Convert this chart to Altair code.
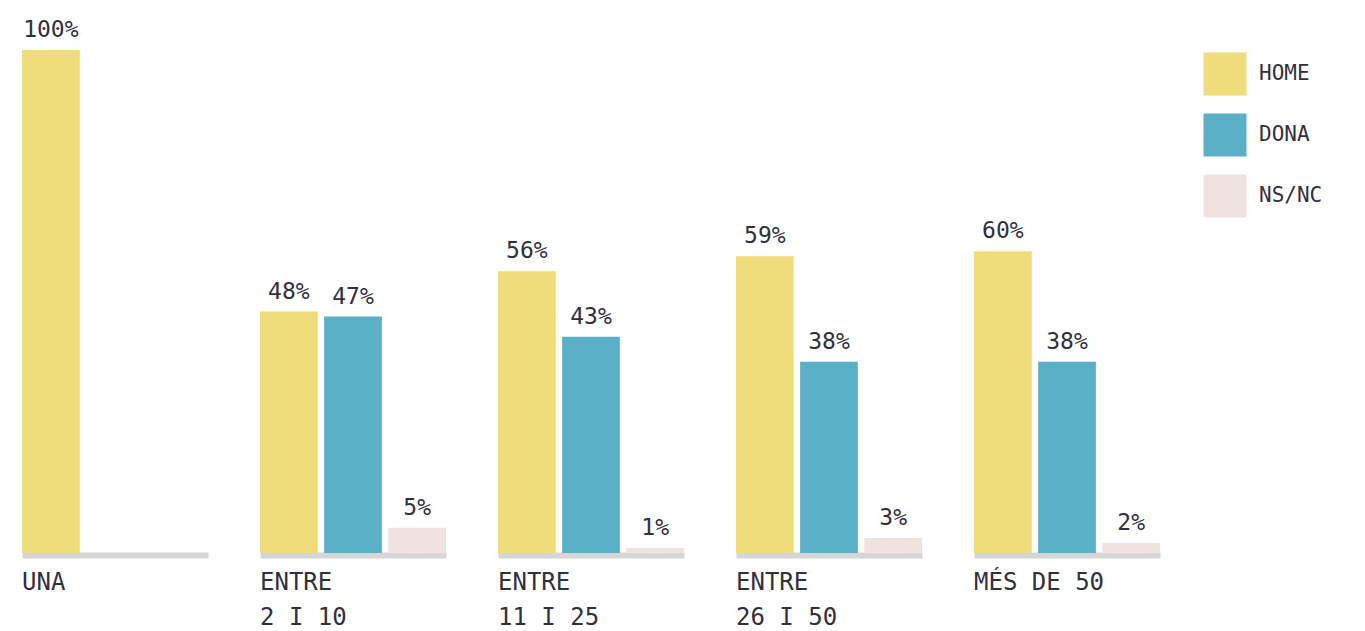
import altair as alt
import pandas as pd

groups = ["UNA", "ENTRE\n2 I 10", "ENTRE\n11 I 25", "ENTRE\n26 I 50", "MÉS DE 50"]
series = ["HOME", "DONA", "NS/NC"]
home = [100, 48, 56, 59, 60]
dona = [None, 47, 43, 38, 38]
nsnc = [None, 5, 1, 3, 2]
colors = ["#EFDC7A", "#5AB0C6", "#EFE2E1"]

rows = []
for g, h, d, n in zip(groups, home, dona, nsnc):
    for s, v in zip(series, [h, d, n]):
        if v is not None:
            rows.append({"group": g, "series": s, "value": v, "label": f"{v}%"})
df = pd.DataFrame(rows)

FONT = "DejaVu Sans Mono"
TXT = "#30303f"

xscale = alt.Scale(domain=series, paddingInner=0.1, paddingOuter=0)
xaxis = alt.Axis(domain=True, domainColor="#d6d6d6", domainWidth=6, offset=2,
                 ticks=False, labels=False, grid=False, title=None)
xenc = alt.X("series:N", sort=series, scale=xscale, axis=xaxis)
yenc = alt.Y("value:Q", axis=None, scale=alt.Scale(domain=[0, 100], nice=False, zero=True))

base = alt.Chart(df)

bars = base.mark_bar().encode(
    x=xenc, y=yenc,
    color=alt.Color("series:N", sort=series,
                    scale=alt.Scale(domain=series, range=colors),
                    legend=alt.Legend(
                        title=None, orient="none", legendX=1181, legendY=2,
                        symbolType="square", symbolSize=1850, symbolStrokeWidth=0,
                        symbolOpacity=1, rowPadding=17, labelOffset=12,
                        labelFont=FONT, labelFontSize=21, labelColor=TXT,
                        padding=0)),
)

pct = base.mark_text(font=FONT, fontSize=23, color=TXT,
                     baseline="alphabetic", dy=-13).encode(
    x=xenc, y=yenc, text="label:N",
)

cats = base.transform_filter(alt.datum.series == "HOME").mark_text(
    font=FONT, fontSize=24, color=TXT, align="left",
    baseline="top", dy=18, lineBreak="\n", lineHeight=35).encode(
    x=alt.X("series:N", sort=series, scale=xscale, axis=xaxis, bandPosition=0),
    y=alt.datum(0),
    text="group:N",
)

chart = alt.layer(bars, pct, cats).properties(
    width=186, height=503,
).facet(
    column=alt.Column("group:N", sort=groups, title=None,
                      header=alt.Header(labels=False)),
    spacing=52,
).resolve_axis(x="independent").properties(
    padding={"left": 14, "top": 11, "right": 5, "bottom": 5},
).configure_view(stroke=None)

chart.save("out.html", embed_options={"renderer": "svg", "actions": False})
